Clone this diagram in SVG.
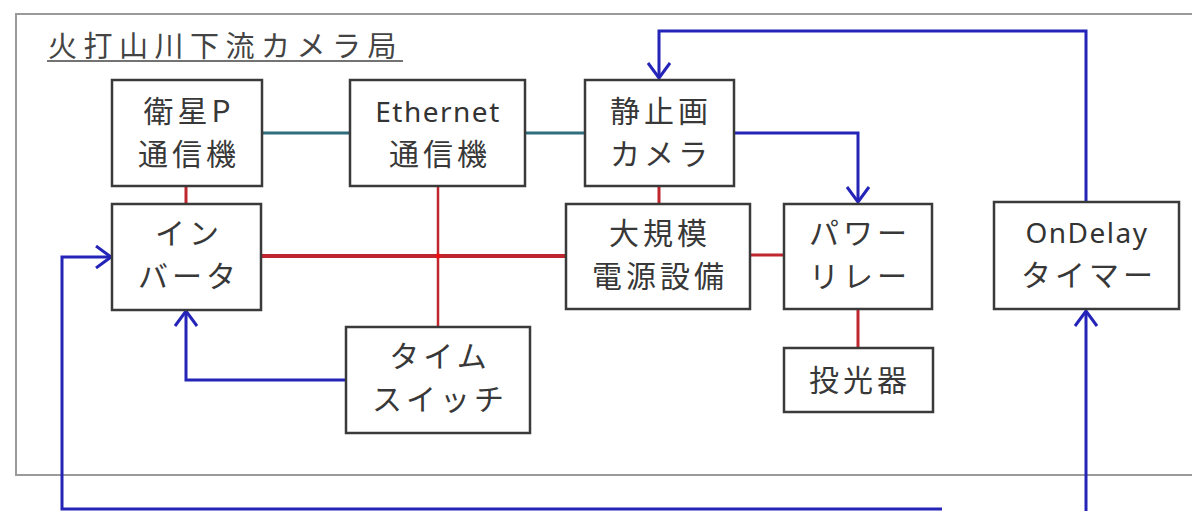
<svg xmlns="http://www.w3.org/2000/svg" width="1192" height="511" viewBox="0 0 1192 511">
<defs>
<marker id="arr" viewBox="0 0 18 24" refX="16" refY="12" markerWidth="18" markerHeight="24" markerUnits="userSpaceOnUse" orient="auto">
<path d="M1,1 L16,12 L1,23" fill="none" stroke="#2424b8" stroke-width="3"/>
</marker>
</defs>
<style>
.box{fill:#fff;stroke:#3a3a3a;stroke-width:2.5}
.t{font-family:"Noto Sans CJK JP","Noto Sans",sans-serif;font-size:30px;fill:#383838;text-anchor:middle;letter-spacing:4px}
.l{font-family:"Noto Sans","Noto Sans CJK JP",sans-serif;font-size:28px;fill:#333;text-anchor:middle;letter-spacing:1.5px}
.teal{stroke:#2f6e7e;stroke-width:3;fill:none}
.red{stroke:#c0262e;fill:none}
.blue{stroke:#2424b8;stroke-width:3;fill:none}
</style>
<rect width="1192" height="511" fill="#fff"/>
<rect x="16" y="14" width="1190" height="461" fill="none" stroke="#9a9a9a" stroke-width="2"/>
<g id="title">
<text x="48" y="57" style="font-family:'Noto Sans CJK JP',sans-serif;font-size:29px;fill:#444;letter-spacing:6.5px">火打山川下流カメラ局</text>
<line x1="47" y1="61" x2="403" y2="61" stroke="#444" stroke-width="1.5"/>
</g>
<g id="connectors">
<line class="teal" x1="262" y1="133" x2="350" y2="133"/>
<line class="teal" x1="525" y1="133" x2="585" y2="133"/>
<line class="red" stroke-width="3" x1="186" y1="186" x2="186" y2="204"/>
<line class="red" stroke-width="3" x1="659" y1="186" x2="659" y2="204"/>
<line class="red" stroke-width="4" x1="261" y1="256" x2="566" y2="256"/>
<line class="red" stroke-width="2.5" x1="438" y1="186" x2="438" y2="327"/>
<circle cx="438" cy="256" r="2.5" fill="#e81010"/>
<line class="red" stroke-width="3" x1="750" y1="255" x2="784" y2="255"/>
<line class="red" stroke-width="3" x1="858" y1="310" x2="858" y2="348"/>
<path class="blue" d="M1086,202 V31 H659 V78" marker-end="url(#arr)"/>
<path class="blue" d="M734,133 H858 V202" marker-end="url(#arr)"/>
<path class="blue" d="M346,380 H186 V311" marker-end="url(#arr)"/>
<path class="blue" d="M942,509 H62 V257 H111" marker-end="url(#arr)"/>
<path class="blue" d="M1086,515 V311" marker-end="url(#arr)"/>
</g>
<g id="eisei">
<rect class="box" x="112" y="80" width="150" height="106"/>
<text class="t" x="189" y="122">衛星P</text>
<text class="t" x="189" y="165">通信機</text>
</g>
<g id="ethernet">
<rect class="box" x="350" y="80" width="175" height="106"/>
<text class="l" x="438" y="122">Ethernet</text>
<text class="t" x="440" y="165">通信機</text>
</g>
<g id="camera">
<rect class="box" x="585" y="80" width="149" height="106"/>
<text class="t" x="661" y="122">静止画</text>
<text class="t" x="661" y="165">カメラ</text>
</g>
<g id="inverter">
<rect class="box" x="112" y="204" width="149" height="106"/>
<text class="t" x="189" y="244">イン</text>
<text class="t" x="189" y="287">バータ</text>
</g>
<g id="power">
<rect class="box" x="566" y="204" width="184" height="105"/>
<text class="t" x="660" y="244">大規模</text>
<text class="t" x="660" y="287">電源設備</text>
</g>
<g id="relay">
<rect class="box" x="784" y="204" width="148" height="105"/>
<text class="t" x="860" y="244">パワー</text>
<text class="t" x="860" y="287">リレー</text>
</g>
<g id="ondelay">
<rect class="box" x="994" y="202" width="185" height="107"/>
<text class="l" x="1087" y="243">OnDelay</text>
<text class="t" x="1089" y="286">タイマー</text>
</g>
<g id="timeswitch">
<rect class="box" x="346" y="327" width="184" height="106"/>
<text class="t" x="440" y="367">タイム</text>
<text class="t" x="440" y="410">スイッチ</text>
</g>
<g id="projector">
<rect class="box" x="784" y="348" width="149" height="64"/>
<text class="t" x="860" y="391">投光器</text>
</g>
</svg>
